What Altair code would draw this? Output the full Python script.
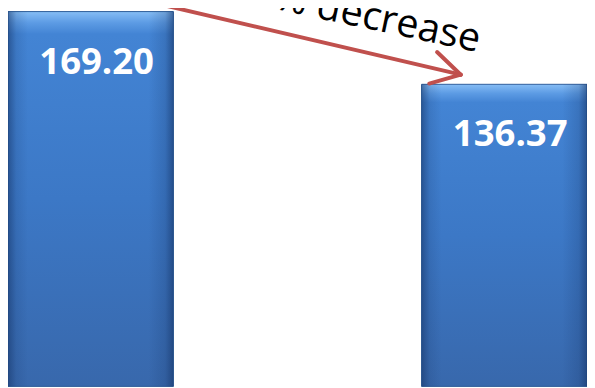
import altair as alt
import pandas as pd

# data
categories = ["Before", "After"]
values = [169.20, 136.37]
labels = ["169.20", "136.37"]
note_text = ["19.40% decrease"]

bars_df = pd.DataFrame({"cat": categories, "value": values, "label": labels})
one = pd.DataFrame({"t": note_text})

W, H = 587, 380

x_enc = alt.X("cat:N", sort=categories, axis=None,
              scale=alt.Scale(paddingInner=0.6, paddingOuter=0.0))
y_scale = alt.Scale(domain=[0.445, 169.645], nice=False, zero=False)

body_grad = alt.Gradient(
    gradient="linear", x1=0, y1=0, x2=0, y2=1,
    stops=[
        alt.GradientStop(offset=0.0, color="#86BDF5"),
        alt.GradientStop(offset=0.03, color="#5C9BE4"),
        alt.GradientStop(offset=0.06, color="#4384D4"),
        alt.GradientStop(offset=0.5, color="#3C78C6"),
        alt.GradientStop(offset=1.0, color="#3868AC"),
    ],
)
side_grad = alt.Gradient(
    gradient="linear", x1=0, y1=0, x2=1, y2=0,
    stops=[
        alt.GradientStop(offset=0.0, color="rgba(20,50,100,0.55)"),
        alt.GradientStop(offset=0.05, color="rgba(20,50,100,0.15)"),
        alt.GradientStop(offset=0.12, color="rgba(20,50,100,0.0)"),
        alt.GradientStop(offset=0.85, color="rgba(20,50,100,0.0)"),
        alt.GradientStop(offset=0.95, color="rgba(20,50,100,0.2)"),
        alt.GradientStop(offset=1.0, color="rgba(20,50,100,0.6)"),
    ],
)

base = alt.Chart(bars_df)

bars = base.mark_bar(color=body_grad, stroke="#2E5C98", strokeWidth=1).encode(
    x=x_enc,
    y=alt.Y("value:Q", scale=y_scale, axis=None),
    y2=alt.datum(0),
)
sides = base.mark_bar(color=side_grad).encode(
    x=x_enc,
    y=alt.Y("value:Q", scale=y_scale, axis=None),
    y2=alt.datum(0),
)
text = base.mark_text(
    font="Open Sans", fontWeight="bold", fontSize=37, color="white",
    align="center", baseline="alphabetic", dy=63, dx=6,
).encode(
    x=x_enc,
    y=alt.Y("value:Q", scale=y_scale, axis=None),
    text="label:N",
)

red = "#C0504D"
arrow_main = alt.Chart(one).mark_rule(color=red, strokeWidth=4, strokeCap="round").encode(
    x=alt.value(100), y=alt.value(-19), x2=alt.value(459), y2=alt.value(65))
arrow_a = alt.Chart(one).mark_rule(color=red, strokeWidth=4, strokeCap="round").encode(
    x=alt.value(435), y=alt.value(42), x2=alt.value(459), y2=alt.value(65))
arrow_b = alt.Chart(one).mark_rule(color=red, strokeWidth=4, strokeCap="round").encode(
    x=alt.value(427), y=alt.value(74), x2=alt.value(459), y2=alt.value(65))
note = alt.Chart(one).mark_text(
    font="Open Sans", fontSize=40, color="black", align="right",
    baseline="alphabetic", angle=12,
).encode(x=alt.value(476), y=alt.value(42), text="t:N")

chart = alt.layer(bars, sides, text, arrow_main, arrow_a, arrow_b, note).properties(
    width=W, height=H, padding=0, background="white",
    autosize=alt.AutoSizeParams(type="none"),
).configure_view(stroke=None)

chart.save("out.html", embed_options={"renderer": "svg", "actions": False})
